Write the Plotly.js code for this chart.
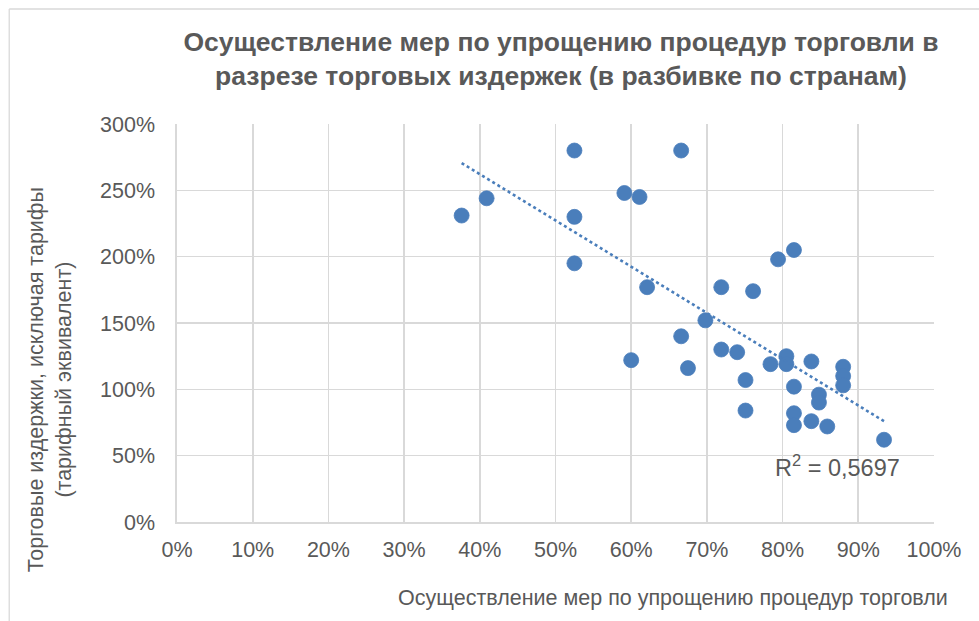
<!DOCTYPE html>
<html>
<head>
<meta charset="utf-8">
<script src="https://cdn.plot.ly/plotly-3.0.1.min.js"></script>
<style>html,body{margin:0;padding:0;background:#fff;}#chart{width:979px;height:621px;}</style>
</head>
<body>
<div id="chart"></div>
<script>
// Data (fractions): trade facilitation implementation vs trade costs
const facilitation = [0.376,0.409,0.525,0.525,0.525,0.591,0.611,0.666,0.621,0.600,0.666,0.675,0.698,0.719,0.719,0.740,0.751,0.751,0.761,0.784,0.794,0.815,0.805,0.805,0.815,0.815,0.815,0.838,0.838,0.848,0.848,0.859,0.880,0.880,0.880,0.934];
const tradeCosts   = [2.31,2.44,2.80,2.30,1.95,2.48,2.45,2.80,1.77,1.22,1.40,1.16,1.52,1.77,1.30,1.28,1.07,0.84,1.74,1.19,1.98,2.05,1.25,1.19,1.02,0.82,0.73,1.21,0.76,0.96,0.90,0.72,1.17,1.10,1.03,0.62];
const xTickVals = [0,0.1,0.2,0.3,0.4,0.5,0.6,0.7,0.8,0.9,1.0];
const xTickText = ['0%','10%','20%','30%','40%','50%','60%','70%','80%','90%','100%'];
const yTickVals = [0,0.5,1,1.5,2,2.5,3];
const yTickText = ['0%','50%','100%','150%','200%','250%','300%'];
const titleText = 'Осуществление мер по упрощению процедур торговли в<br>разрезе торговых издержек (в разбивке по странам)';
const xTitleText = 'Осуществление мер по упрощению процедур торговли';
const yTitleText = 'Торговые издержки, исключая тарифы<br>(тарифный эквивалент)';
const r2Text = 'R<sup>2</sup> = 0,5697';

// least-squares linear trendline
const n = facilitation.length;
const mx = facilitation.reduce((a,b)=>a+b,0)/n;
const my = tradeCosts.reduce((a,b)=>a+b,0)/n;
let sxy=0,sxx=0;
for(let i=0;i<n;i++){sxy+=(facilitation[i]-mx)*(tradeCosts[i]-my);sxx+=(facilitation[i]-mx)**2;}
const slope=sxy/sxx, icpt=my-slope*mx;
const tx=[Math.min(...facilitation),Math.max(...facilitation)];
const ty=tx.map(v=>icpt+slope*v);

const grey='#595959';
const font='"Liberation Sans", Arial, sans-serif';
const data=[
 {x:facilitation,y:tradeCosts,type:'scatter',mode:'markers',
  marker:{size:15,color:'#4a7ebb',line:{width:0.8,color:'#4a7ebb'}},hoverinfo:'x+y',showlegend:false},
 {x:tx,y:ty,type:'scatter',mode:'lines',line:{color:'#4a7ebb',width:2.6,dash:'dot'},showlegend:false,hoverinfo:'skip'}
];
const layout={
 width:979,height:621,
 margin:{l:177,r:45,t:124,b:99},
 paper_bgcolor:'#fff',plot_bgcolor:'#fff',
 font:{family:font,color:grey},
 title:{text:titleText,font:{family:font,size:26.5,color:grey,weight:'bold'},x:0.573,xanchor:'center',y:0.918,yanchor:'top'},
 xaxis:{range:[0,1],tickvals:xTickVals,ticktext:xTickText,showgrid:true,gridcolor:'#d9d9d9',gridwidth:1.6,
   zeroline:false,showline:true,linecolor:'#d9d9d9',linewidth:1.6,mirror:false,ticks:'',tickfont:{size:21.5,color:grey},ticklabelstandoff:8,fixedrange:true},
 yaxis:{range:[0,3],tickvals:yTickVals,ticktext:yTickText,showgrid:true,gridcolor:'#d9d9d9',gridwidth:1.6,
   zeroline:false,showline:true,linecolor:'#d9d9d9',linewidth:1.6,ticks:'',tickfont:{size:21.5,color:grey},ticklabelstandoff:16,fixedrange:true},
 annotations:[
  {text:xTitleText,xref:'paper',yref:'paper',x:(674-177)/758,y:(522-598)/398,xanchor:'center',yanchor:'middle',showarrow:false,font:{size:21.5,color:grey}},
  {text:yTitleText,xref:'paper',yref:'paper',x:(50-177)/758,y:(522-380)/398,xanchor:'center',yanchor:'middle',textangle:-90,showarrow:false,font:{size:21.5,color:grey}},
  {text:r2Text,xref:'paper',yref:'paper',x:(838-177)/758,y:(522-466)/398,xanchor:'center',yanchor:'middle',showarrow:false,font:{size:23.5,color:grey}}
 ],
 shapes:[
  {type:'line',xref:'paper',yref:'paper',x0:(9-177)/758,x1:(990-177)/758,y0:(522-9)/398,y1:(522-9)/398,line:{color:'#d9d9d9',width:1.3}},
  {type:'line',xref:'paper',yref:'paper',x0:(9-177)/758,x1:(9-177)/758,y0:(522-9)/398,y1:(522-640)/398,line:{color:'#d9d9d9',width:1.3}}
 ]
};
Plotly.newPlot('chart',data,layout,{displayModeBar:false,staticPlot:true});
</script>
</body>
</html>
